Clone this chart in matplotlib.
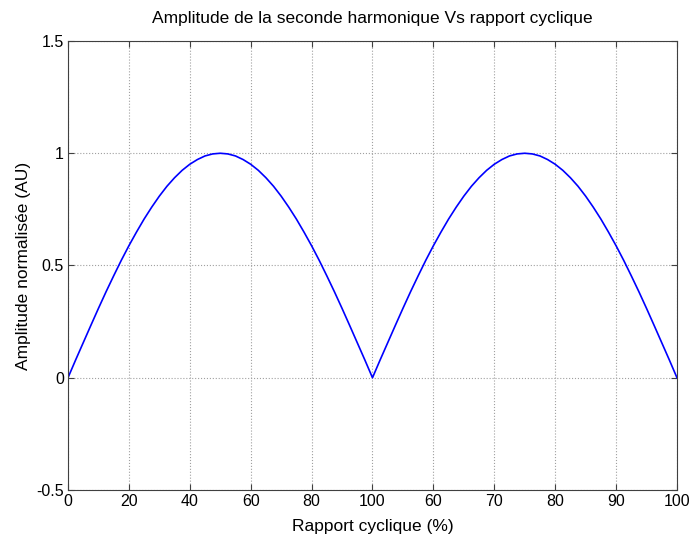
import matplotlib.pyplot as plt
import numpy as np

# duty cycle positions on the axis (two sweeps side by side: 0..100 then 100..200)
x_pos = np.arange(0, 200.1, 2.5)

# normalised amplitude, first arch (0..100 %)
arch1 = [0.000, 0.079, 0.156, 0.233, 0.309, 0.383, 0.454, 0.523, 0.588, 0.649,
         0.707, 0.760, 0.809, 0.853, 0.891, 0.924, 0.951, 0.972, 0.988, 0.997,
         1.000, 0.997, 0.988, 0.972, 0.951, 0.924, 0.891, 0.853, 0.809, 0.760,
         0.707, 0.649, 0.588, 0.523, 0.454, 0.383, 0.309, 0.233, 0.156, 0.079,
         0.000]
# second arch (right part of the axis)
arch2 = [0.079, 0.156, 0.233, 0.309, 0.383, 0.454, 0.523, 0.588, 0.649,
         0.707, 0.760, 0.809, 0.853, 0.891, 0.924, 0.951, 0.972, 0.988, 0.997,
         1.000, 0.997, 0.988, 0.972, 0.951, 0.924, 0.891, 0.853, 0.809, 0.760,
         0.707, 0.649, 0.588, 0.523, 0.454, 0.383, 0.309, 0.233, 0.156, 0.079,
         0.000]
amp = arch1 + arch2

xticks = [0, 20, 40, 60, 80, 100, 120, 140, 160, 180, 200]
xtick_labels = ['0', '20', '40', '60', '80', '100', '60', '70', '80', '90', '100']
yticks = [-0.5, 0, 0.5, 1, 1.5]
ytick_labels = ['-0.5', '0', '0.5', '1', '1.5']

plt.rcParams['font.family'] = ['Liberation Sans', 'DejaVu Sans']

fig = plt.figure(figsize=(6.91, 5.41), dpi=100)
ax = fig.add_axes([0.0984, 0.0943, 0.8813, 0.8299])
ax.plot(x_pos, amp, color='#0000ff', lw=1.2)

ax.set_xlim(0, 200)
ax.set_ylim(-0.5, 1.5)
ax.set_xticks(xticks)
ax.set_xticklabels(xtick_labels)
ax.set_yticks(yticks)
ax.set_yticklabels(ytick_labels)
ax.grid(True, ls=':', color='#a0a0a0', lw=0.8)
ax.tick_params(direction='in', top=True, right=True, labelsize=11.5, length=4,
               color='#404040', pad=3)
for s in ax.spines.values():
    s.set_color('#404040')

ax.set_title('Amplitude de la seconde harmonique Vs rapport cyclique', fontsize=12.5, pad=13)
ax.set_xlabel('Rapport cyclique (%)', fontsize=12.5, labelpad=7)
ax.set_ylabel('Amplitude normalisée (AU)', fontsize=12.5, labelpad=4)

fig.savefig('out.png', dpi=100)
